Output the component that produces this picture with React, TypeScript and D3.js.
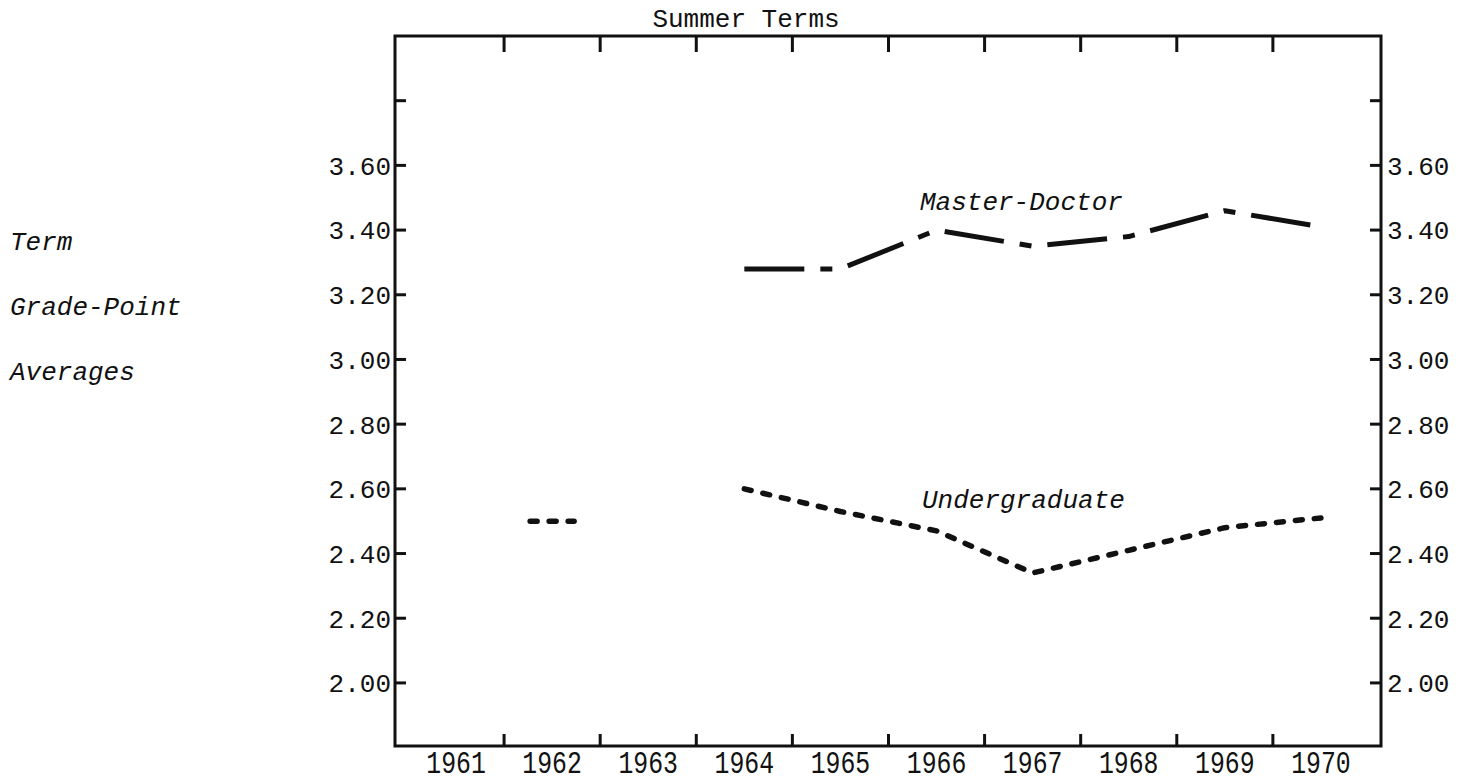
import React from "react";
import * as d3 from "d3";

// Summer Terms — term grade-point averages
const years = [1961, 1962, 1963, 1964, 1965, 1966, 1967, 1968, 1969, 1970];
const yearLabels = years.map(String);
const undergraduate: (number | null)[] = [null, 2.5, null, 2.6, 2.53, 2.47, 2.34, 2.41, 2.48, 2.51];
const masterDoctor: (number | null)[] = [null, null, null, 3.28, 3.28, 3.4, 3.35, 3.38, 3.46, 3.41];
const yTicks = [2.0, 2.2, 2.4, 2.6, 2.8, 3.0, 3.2, 3.4, 3.6, 3.8];
const yTickLabels = ["2.00", "2.20", "2.40", "2.60", "2.80", "3.00", "3.20", "3.40", "3.60", ""];
const axisTitle = ["Term", "Grade-Point", "Averages"];

const W = 1467;
const H = 783;
const box = { left: 395, right: 1381, top: 36, bottom: 746 };
const mono = "'Liberation Mono', 'Courier New', monospace";
const ink = "#111";

const x = d3.scaleLinear().domain([1960.365, 1970.625]).range([box.left, box.right]);
const y = d3.scaleLinear().domain([1.805, 4.0]).range([box.bottom, box.top]);

type Pt = { year: number; v: number | null };

const toPts = (vals: (number | null)[]): Pt[] => years.map((yr, i) => ({ year: yr, v: vals[i] }));

const line = d3
  .line<Pt>()
  .defined((d) => d.v != null)
  .x((d) => x(d.year))
  .y((d) => y(d.v as number));

// lone points (no neighbour on either side) are drawn as a short stroke
const lonePts = (pts: Pt[]) =>
  pts.filter((d, i) => d.v != null && (pts[i - 1]?.v == null) && (pts[i + 1]?.v == null));

function Series({ vals, dash, width, cap }: { vals: (number | null)[]; dash: string; width: number; cap: "round" | "butt" }) {
  const pts = toPts(vals);
  return (
    <g fill="none" stroke={ink} strokeWidth={width} strokeDasharray={dash} strokeLinecap={cap} strokeLinejoin="round">
      <path d={line(pts) ?? ""} />
      {lonePts(pts).map((d) => (
        <line key={d.year} x1={x(d.year) - 22} x2={x(d.year) + 22} y1={y(d.v as number)} y2={y(d.v as number)} />
      ))}
    </g>
  );
}

export default function App() {
  const tickYears = years.slice(0, -1).map((yr) => yr + 0.5);
  return (
    <svg width={W} height={H} style={{ position: "absolute", left: 0, top: 0, background: "#fff" }}>
      <text x={746} y={27} fontFamily={mono} fontSize={26} textAnchor="middle" fill={ink}>
        Summer Terms
      </text>

      {axisTitle.map((t, i) => (
        <text key={t} x={10} y={250 + i * 65} fontFamily={mono} fontStyle="italic" fontSize={26} fill={ink}>
          {t}
        </text>
      ))}

      <rect x={box.left} y={box.top} width={box.right - box.left} height={box.bottom - box.top} fill="none" stroke={ink} strokeWidth={3} />

      {tickYears.map((t) => (
        <g key={t} stroke={ink} strokeWidth={3}>
          <line x1={x(t)} x2={x(t)} y1={box.top} y2={box.top + 16} />
          <line x1={x(t)} x2={x(t)} y1={box.bottom} y2={box.bottom - 12} />
        </g>
      ))}

      {yTicks.map((v, i) => (
        <g key={v}>
          <line x1={box.left} x2={box.left + 11} y1={y(v)} y2={y(v)} stroke={ink} strokeWidth={3} />
          <line x1={box.right} x2={box.right - 11} y1={y(v)} y2={y(v)} stroke={ink} strokeWidth={3} />
          <text x={box.left - 4} y={y(v)} dy="0.36em" textAnchor="end" fontFamily={mono} fontSize={26} fill={ink}>
            {yTickLabels[i]}
          </text>
          <text x={box.right + 6} y={y(v)} dy="0.36em" textAnchor="start" fontFamily={mono} fontSize={26} fill={ink}>
            {yTickLabels[i]}
          </text>
        </g>
      ))}

      {years.map((yr, i) => (
        <text
          key={yr}
          transform={`translate(${x(yr)},${773}) scale(0.8,1)`}
          textAnchor="middle"
          fontFamily={mono}
          fontSize={31}
          fill={ink}
        >
          {yearLabels[i]}
        </text>
      ))}

      <Series vals={masterDoctor} dash="60 16 12 16" width={5} cap="butt" />
      <Series vals={undergraduate} dash="7 12" width={5.5} cap="round" />

      <text x={920} y={210} fontFamily={mono} fontStyle="italic" fontSize={26} fill={ink}>
        Master-Doctor
      </text>
      <text x={922} y={508} fontFamily={mono} fontStyle="italic" fontSize={26} fill={ink}>
        Undergraduate
      </text>
    </svg>
  );
}
